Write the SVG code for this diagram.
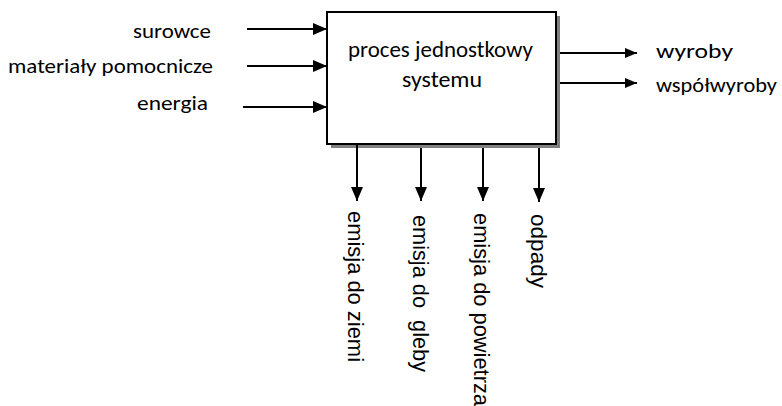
<svg xmlns="http://www.w3.org/2000/svg" width="782" height="406" viewBox="0 0 782 406">
<style>
.lbl{font-family:Carlito,Calibri,Lato,"Liberation Sans",sans-serif;font-size:21px;fill:#000}
.box{font-family:Carlito,Calibri,Lato,"Liberation Sans",sans-serif;font-size:22px;fill:#000}
.vert{font-family:"Liberation Sans",Arial,sans-serif;font-size:22px;fill:#000;white-space:pre}
.ln{stroke:#000;stroke-width:2;fill:none}
</style>
<defs>
<marker id="ah" markerWidth="14" markerHeight="12" refX="14" refY="6" orient="auto" markerUnits="userSpaceOnUse">
<path d="M0,0 L14,6 L0,12 Z" fill="#000"/>
</marker>
<marker id="ah2" markerWidth="12" markerHeight="10" refX="12" refY="5" orient="auto" markerUnits="userSpaceOnUse">
<path d="M0,0 L12,5 L0,10 Z" fill="#000"/>
</marker>
</defs>
<g id="process">
<rect x="331" y="16" width="229" height="132" fill="#808080"/>
<rect x="327" y="12" width="229" height="132" fill="#fff" stroke="#000" stroke-width="2"/>
<text class="box" x="348" y="57" textLength="185" lengthAdjust="spacingAndGlyphs">proces jednostkowy</text>
<text class="box" x="402" y="87" textLength="80" lengthAdjust="spacingAndGlyphs">systemu</text>
</g>
<g id="inputs">
<text class="lbl" x="133" y="38" textLength="78" lengthAdjust="spacingAndGlyphs">surowce</text>
<text class="lbl" x="8" y="73" textLength="205" lengthAdjust="spacingAndGlyphs">materiały pomocnicze</text>
<text class="lbl" x="137" y="110" textLength="71" lengthAdjust="spacingAndGlyphs">energia</text>
</g>
<g id="outputs">
<text class="lbl" x="656" y="58" textLength="77" lengthAdjust="spacingAndGlyphs">wyroby</text>
<text class="lbl" x="656" y="92" textLength="121" lengthAdjust="spacingAndGlyphs">współwyroby</text>
</g>
<g id="emissions">
<text class="vert" transform="translate(348,211) rotate(90)" textLength="151" lengthAdjust="spacingAndGlyphs">emisja do ziemi</text>
<text class="vert" xml:space="preserve" transform="translate(413,215) rotate(90)" textLength="157" lengthAdjust="spacingAndGlyphs">emisja do  gleby</text>
<text class="vert" transform="translate(474,213) rotate(90)" textLength="193" lengthAdjust="spacingAndGlyphs">emisja do powietrza</text>
<text class="vert" transform="translate(531,214) rotate(90)" textLength="74" lengthAdjust="spacingAndGlyphs">odpady</text>
</g>
<g id="connectors">
<line class="ln" x1="247" y1="29" x2="327" y2="29" marker-end="url(#ah)"/>
<line class="ln" x1="247" y1="66" x2="327" y2="66" marker-end="url(#ah)"/>
<line class="ln" x1="243" y1="107" x2="327" y2="107" marker-end="url(#ah)"/>
<line class="ln" x1="560" y1="53" x2="637" y2="53" stroke-width="1.6" marker-end="url(#ah2)"/>
<line class="ln" x1="560" y1="83" x2="637" y2="83" stroke-width="1.6" marker-end="url(#ah2)"/>
<line class="ln" x1="357" y1="145" x2="357" y2="201" marker-end="url(#ah)"/>
<line class="ln" x1="421" y1="148" x2="421" y2="201" marker-end="url(#ah)"/>
<line class="ln" x1="483" y1="148" x2="483" y2="201" marker-end="url(#ah)"/>
<line class="ln" x1="539" y1="148" x2="539" y2="202" marker-end="url(#ah)"/>
</g>
</svg>
